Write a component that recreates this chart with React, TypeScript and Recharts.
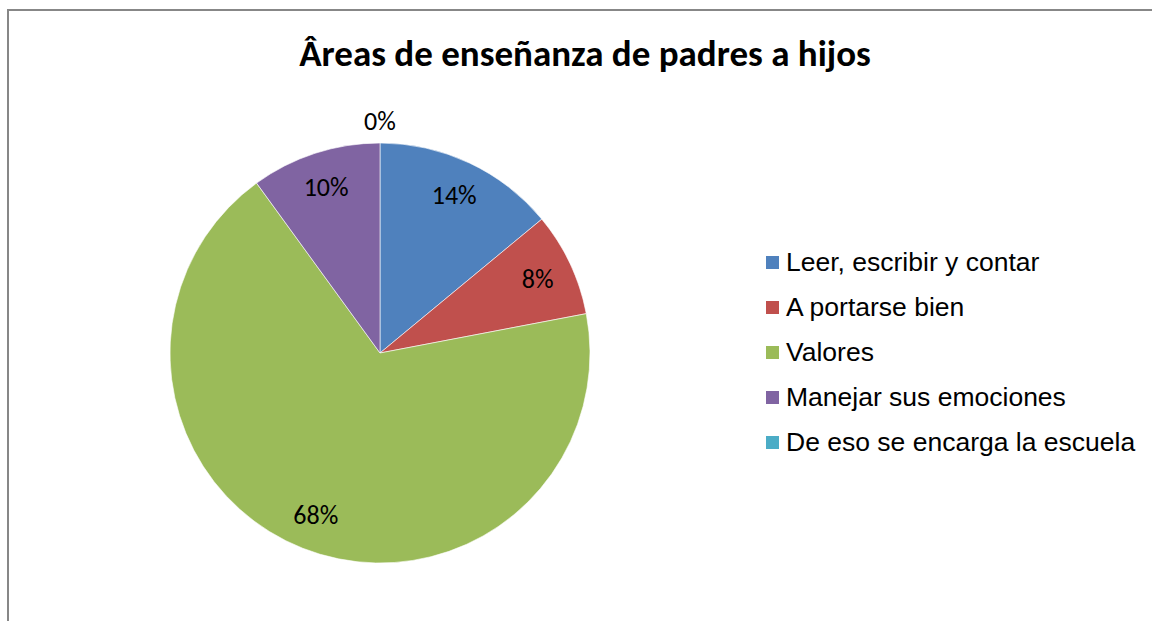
import React from "react";
import { PieChart, Pie, Cell, Legend } from "recharts";

const categories = [
  "Leer, escribir y contar",
  "A portarse bien",
  "Valores",
  "Manejar sus emociones",
  "De eso se encarga la escuela",
];
const counts = [7, 4, 34, 5, 0];
const colors = ["#4F81BD", "#C0504D", "#9BBB59", "#8064A2", "#4BACC6"];

const data = categories.map((name, i) => ({ name, value: counts[i] }));

const RADIAN = Math.PI / 180;
const labelFont = "Calibri, Carlito, Lato, sans-serif";

const renderLabel = (props: any) => {
  const { cx, cy, midAngle, outerRadius, percent, value } = props;
  const r = value > 0 ? outerRadius * 0.83 : outerRadius + 22;
  const x = cx + r * Math.cos(-midAngle * RADIAN);
  const y = cy + r * Math.sin(-midAngle * RADIAN);
  return (
    <text
      x={x}
      y={y}
      fill="#000"
      textAnchor="middle"
      dominantBaseline="central"
      style={{ fontFamily: labelFont, fontSize: 26 }}
    >
      {`${Math.round(percent * 100)}%`}
    </text>
  );
};

const renderLegend = () => (
  <div style={{ fontFamily: "'Liberation Sans', Arial, sans-serif", fontSize: 26.5 }}>
    {categories.map((c, i) => (
      <div
        key={c}
        style={{ display: "flex", alignItems: "center", height: 45 }}
      >
        <span
          style={{
            display: "inline-block",
            width: 13,
            height: 13,
            background: colors[i],
            marginRight: 7,
          }}
        />
        <span style={{ color: "#000" }}>{c}</span>
      </div>
    ))}
  </div>
);

export default function App() {
  return (
    <div
      style={{
        position: "absolute",
        left: 0,
        top: 0,
        width: 1152,
        height: 621,
        overflow: "hidden",
        background: "#fff",
      }}
    >
      <div
        style={{
          position: "absolute",
          left: 7,
          top: 9,
          width: 1200,
          height: 700,
          border: "2px solid #878787",
        }}
      />
      <div
        style={{
          position: "absolute",
          left: 0,
          top: 31,
          width: 1170,
          textAlign: "center",
          fontFamily: labelFont,
          fontWeight: 700,
          fontSize: 37,
          color: "#000",
        }}
      >
        Âreas de enseñanza de padres a hijos
      </div>
      <PieChart
        width={1152}
        height={621}
        margin={{ top: 0, right: 0, bottom: 0, left: 0 }}
        style={{ position: "absolute", left: 0, top: 0 }}
      >
        <Pie
          data={data}
          dataKey="value"
          nameKey="name"
          cx={380}
          cy={353}
          outerRadius={210}
          startAngle={90}
          endAngle={-270}
          stroke="#ffffff"
          strokeWidth={0.6}
          label={renderLabel}
          labelLine={false}
          isAnimationActive={false}
        >
          {data.map((d, i) => (
            <Cell key={d.name} fill={colors[i]} />
          ))}
        </Pie>
        <Legend
          content={renderLegend}
          wrapperStyle={{ position: "absolute", left: 766, top: 240, width: 386 }}
        />
      </PieChart>
    </div>
  );
}
